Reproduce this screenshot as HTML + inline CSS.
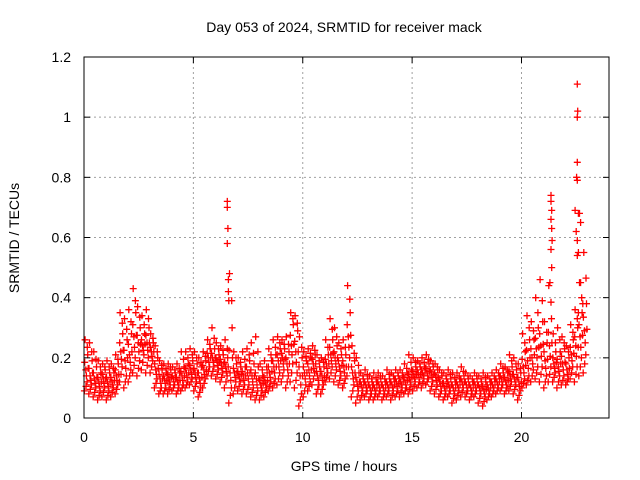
<!DOCTYPE html>
<html><head><meta charset="utf-8"><style>
body{margin:0;background:#fff}
svg{display:block;font-family:"Liberation Sans",sans-serif}
</style></head><body>
<svg id="chart" width="640" height="480">
<text x="344" y="32" font-size="14" text-anchor="middle">Day 053 of 2024, SRMTID for receiver mack</text>
<text x="344" y="471" font-size="14" text-anchor="middle">GPS time / hours</text>
<text transform="translate(19,238) rotate(-90)" font-size="14" text-anchor="middle">SRMTID / TECUs</text>
<g id="grid"></g><g id="marks"></g>
<rect x="84" y="57" width="525" height="361" fill="none" stroke="#000"/>
<g id="axes"></g>
</svg>
<script>
const xTicks=[0,5,10,15,20];
const yTicks=[0,0.2,0.4,0.6,0.8,1,1.2];
const yTickLabels=["0","0.2","0.4","0.6","0.8","1","1.2"];
const binTimes=[0,0.2,0.4,0.6,0.8,1,1.2,1.4,1.6,1.8,2,2.2,2.4,2.6,2.8,3,3.2,3.4,3.6,3.8,4,4.2,4.4,4.6,4.8,5,5.2,5.4,5.6,5.8,6,6.2,6.4,6.6,6.8,7,7.2,7.4,7.6,7.8,8,8.2,8.4,8.6,8.8,9,9.2,9.4,9.6,9.8,10,10.2,10.4,10.6,10.8,11,11.2,11.4,11.6,11.8,12,12.2,12.4,12.6,12.8,13,13.2,13.4,13.6,13.8,14,14.2,14.4,14.6,14.8,15,15.2,15.4,15.6,15.8,16,16.2,16.4,16.6,16.8,17,17.2,17.4,17.6,17.8,18,18.2,18.4,18.6,18.8,19,19.2,19.4,19.6,19.8,20,20.2,20.4,20.6,20.8,21,21.2,21.4,21.6,21.8,22,22.2,22.4,22.6,22.8];
const sLow=[.09,.08,.07,.06,.07,.06,.07,.08,.12,.10,.12,.15,.14,.16,.15,.15,.10,.08,.08,.08,.09,.08,.09,.10,.11,.09,.07,.10,.14,.14,.13,.12,.10,.05,.08,.09,.08,.08,.07,.06,.06,.07,.09,.10,.11,.12,.10,.12,.10,.04,.07,.09,.11,.08,.08,.12,.13,.12,.11,.10,.14,.07,.05,.06,.07,.06,.06,.07,.06,.07,.06,.07,.07,.08,.08,.09,.10,.10,.11,.09,.08,.07,.06,.07,.05,.06,.07,.07,.06,.07,.05,.04,.06,.07,.08,.09,.08,.09,.08,.06,.10,.11,.12,.13,.12,.10,.12,.12,.10,.11,.11,.13,.12,.14,.15];
const sQ1=[.12,.11,.10,.09,.10,.09,.10,.11,.17,.14,.16,.20,.19,.21,.20,.19,.13,.10,.10,.11,.11,.10,.11,.12,.13,.12,.10,.13,.17,.17,.16,.15,.14,.10,.12,.12,.11,.11,.10,.09,.09,.10,.12,.13,.15,.16,.14,.18,.15,.08,.11,.12,.15,.11,.11,.15,.17,.16,.14,.13,.20,.11,.09,.09,.09,.08,.08,.09,.08,.09,.09,.09,.10,.10,.11,.12,.12,.13,.13,.12,.11,.09,.08,.09,.08,.09,.10,.09,.08,.09,.08,.07,.08,.09,.10,.11,.10,.12,.11,.09,.13,.14,.16,.17,.17,.14,.17,.15,.14,.14,.13,.17,.17,.20,.21];
const sMid=[.16,.14,.13,.12,.13,.12,.12,.14,.22,.19,.21,.27,.25,.24,.25,.22,.16,.13,.13,.13,.13,.12,.14,.15,.16,.15,.13,.16,.20,.20,.19,.18,.17,.15,.15,.14,.14,.15,.14,.13,.11,.12,.15,.17,.19,.20,.18,.24,.22,.14,.15,.16,.18,.14,.14,.18,.21,.20,.17,.17,.27,.15,.12,.11,.11,.10,.10,.11,.10,.11,.11,.12,.12,.12,.13,.14,.15,.15,.15,.15,.14,.12,.10,.11,.10,.11,.12,.11,.10,.11,.10,.09,.10,.11,.12,.13,.12,.14,.13,.12,.17,.19,.20,.23,.24,.19,.24,.18,.17,.18,.16,.21,.24,.27,.29];
const sQ3=[.21,.19,.17,.15,.16,.15,.15,.18,.28,.26,.28,.35,.30,.28,.30,.25,.20,.16,.15,.16,.15,.15,.17,.18,.19,.18,.17,.19,.23,.23,.21,.21,.20,.30,.18,.17,.17,.19,.18,.17,.14,.15,.19,.21,.23,.23,.22,.31,.29,.20,.19,.20,.21,.17,.17,.21,.26,.24,.21,.21,.35,.19,.15,.13,.13,.12,.12,.13,.12,.13,.13,.14,.14,.15,.16,.17,.17,.17,.18,.17,.16,.14,.13,.13,.12,.13,.14,.13,.12,.13,.12,.12,.12,.13,.14,.15,.15,.17,.16,.15,.22,.26,.26,.30,.32,.25,.33,.22,.22,.23,.20,.26,.30,.35,.38];
const sHigh=[.26,.25,.22,.19,.18,.19,.18,.21,.35,.33,.36,.43,.37,.34,.36,.28,.24,.19,.18,.18,.17,.18,.22,.22,.23,.22,.20,.22,.26,.30,.25,.24,.26,.48,.22,.20,.22,.23,.25,.27,.18,.19,.23,.26,.27,.26,.27,.35,.34,.27,.22,.23,.24,.21,.20,.26,.33,.30,.25,.26,.44,.24,.20,.15,.16,.14,.15,.15,.14,.16,.15,.16,.16,.18,.21,.20,.19,.20,.21,.19,.18,.16,.15,.16,.15,.15,.17,.15,.14,.15,.14,.15,.14,.15,.16,.18,.17,.21,.20,.18,.28,.34,.32,.40,.46,.32,.44,.28,.30,.27,.24,.31,.36,.45,.55];
const spikeTimes=[6.55,6.55,6.58,6.55,6.6,6.6,6.62,21.35,21.35,21.38,21.35,21.38,21.4,21.35,21.38,21.3,22.55,22.57,22.55,22.55,22.52,22.55,22.45,22.6,22.65,22.7,22.5,22.55,22.6,22.55,22.7,22.75,22.8,22.6];
const spikeVals=[.72,.70,.63,.58,.46,.42,.39,.74,.72,.69,.66,.63,.59,.56,.50,.45,1.11,1.02,1.0,.85,.80,.79,.69,.68,.68,.65,.62,.59,.55,.54,.45,.40,.38,.35];

const X0=84,X1=609,Y0=418,Y1=57;
const xs=t=>X0+(t/24)*(X1-X0);
const ys=v=>Y0-(v/1.2)*(Y0-Y1);
const NS="http://www.w3.org/2000/svg";
const grid=document.getElementById('grid'),marks=document.getElementById('marks'),axes=document.getElementById('axes');
function mk(tag,attrs,parent){const e=document.createElementNS(NS,tag);for(const k in attrs)e.setAttribute(k,attrs[k]);parent.appendChild(e);return e;}
xTicks.forEach(t=>{const x=xs(t);
 if(t>0){const g=mk('line',{x1:x,x2:x,y1:Y1,y2:Y0,stroke:'#a0a0a0','stroke-dasharray':'2,3'},grid);
 
 }
 mk('line',{x1:x,x2:x,y1:Y0,y2:Y0-6,stroke:'#000'},axes);
 mk('line',{x1:x,x2:x,y1:Y1,y2:Y1+6,stroke:'#000'},axes);
 const l=mk('text',{x:x,y:Y0+24,'font-size':14,'text-anchor':'middle'},axes);l.textContent=t;
 
 
});
yTicks.forEach((v,i)=>{const y=ys(v);
 if(v>0&&v<1.2){const g=mk('line',{x1:X0,x2:X1,y1:y,y2:y,stroke:'#a0a0a0','stroke-dasharray':'2,3'},grid);
 
 }
 mk('line',{x1:X0,x2:X0+6,y1:y,y2:y,stroke:'#000'},axes);
 mk('line',{x1:X1,x2:X1-6,y1:y,y2:y,stroke:'#000'},axes);
 const l=mk('text',{x:X0-13,y:y+5,'font-size':14,'text-anchor':'end'},axes);l.textContent=yTickLabels[i];
 
 
});
let d='';
function plus(t,v){const x=xs(t),y=ys(v);d+=`M${(x-3.5).toFixed(1)} ${y.toFixed(1)}h7M${x.toFixed(1)} ${(y-3.5).toFixed(1)}v7`;}
const series=[sLow,sQ1,sMid,sQ3,sHigh];
const offs=[0.02,0.14,0.08,0.17,0.05];
series.forEach((s,k)=>binTimes.forEach((t,i)=>plus(t+offs[k],s[i])));
// extra pass to densify core between series
binTimes.forEach((t,i)=>{
 plus(t+0.11,(sQ1[i]+sMid[i])/2);
 plus(t+0.03,(sMid[i]+sQ3[i])/2);
 plus(t+0.09,(sLow[i]+sQ1[i])/2);
 plus(t+0.15,(sQ3[i]+sHigh[i])/2);
 plus(t+0.19,(sQ1[i]+sQ3[i])/2);
});
spikeTimes.forEach((t,i)=>plus(t,spikeVals[i]));
const p=mk('path',{d:d,stroke:'#ff0000','stroke-width':1.3,fill:'none'},marks);


</script>
</body></html>
